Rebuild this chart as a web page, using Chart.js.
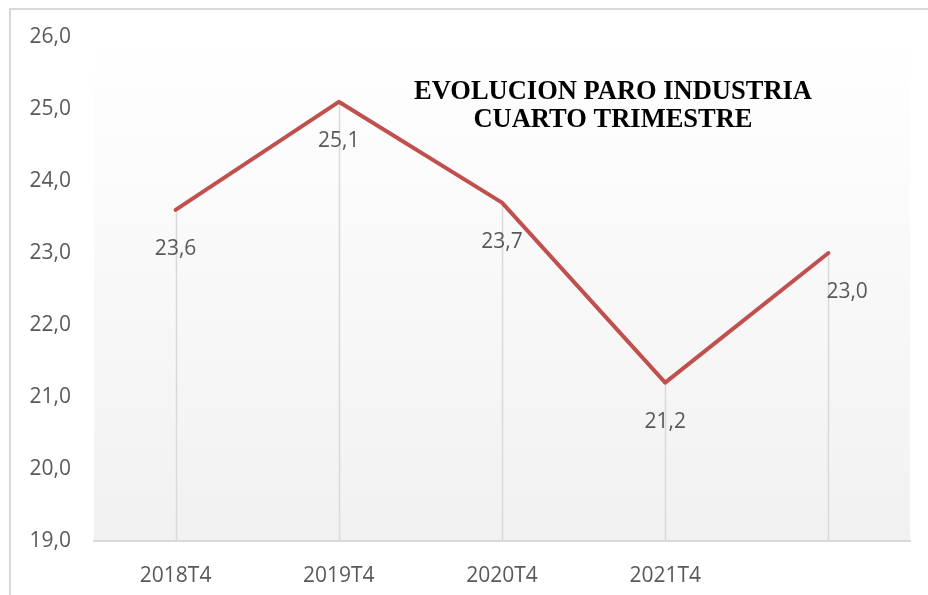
<!DOCTYPE html>
<html>
<head>
<meta charset="utf-8">
<script src="https://cdn.jsdelivr.net/npm/chart.js@4/dist/chart.umd.min.js"></script>
<style>
  html, body { margin: 0; padding: 0; background: #ffffff; overflow: hidden; }
  #frame { position: absolute; left: 9px; top: 8px; width: 960px; height: 640px; border: 2px solid #d9d9d9; box-sizing: border-box; }
  #wrap { position: absolute; left: 0; top: 0; width: 928px; height: 595px; }
</style>
</head>
<body>
<div id="frame"></div>
<div id="wrap"><canvas id="c" width="928" height="595"></canvas></div>
<script>
// ---- data ----
const categories = ['2018T4', '2019T4', '2020T4', '2021T4', ''];
const paroIndustria = [23.6, 25.1, 23.7, 21.2, 23.0];
const titleLines = ['EVOLUCION PARO INDUSTRIA', 'CUARTO TRIMESTRE'];
const yMin = 19, yMax = 26, yStep = 1;

const fmt = v => Number(v).toFixed(1).replace('.', ',');
const TEXT = '#595959';
const FONT = 'Open Sans';

const bgPlugin = {
  id: 'bg',
  beforeDraw(chart) {
    const { ctx, chartArea: a } = chart;
    const g = ctx.createLinearGradient(0, a.top, 0, a.bottom);
    g.addColorStop(0, '#ffffff');
    g.addColorStop(1, '#f1f1f1');
    ctx.save();
    ctx.fillStyle = g;
    ctx.fillRect(a.left, a.top, a.right - a.left, a.bottom - a.top);
    ctx.restore();
  }
};

const dropPlugin = {
  id: 'drops',
  beforeDatasetsDraw(chart) {
    const { ctx, chartArea: a } = chart;
    const meta = chart.getDatasetMeta(0);
    ctx.save();
    ctx.strokeStyle = '#d9d9d9';
    ctx.lineWidth = 1.5;
    meta.data.forEach(p => {
      ctx.beginPath();
      ctx.moveTo(Math.round(p.x) + 0.5, p.y);
      ctx.lineTo(Math.round(p.x) + 0.5, a.bottom);
      ctx.stroke();
    });
    ctx.restore();
  }
};

const labelPlugin = {
  id: 'vlabels',
  afterDatasetsDraw(chart) {
    const { ctx } = chart;
    const meta = chart.getDatasetMeta(0);
    const vals = chart.data.datasets[0].data;
    ctx.save();
    ctx.font = '21px "' + FONT + '"';
    ctx.fillStyle = TEXT;
    ctx.textBaseline = 'middle';
    meta.data.forEach((p, i) => {
      const last = i === meta.data.length - 1;
      ctx.textAlign = last ? 'left' : 'center';
      ctx.fillText(fmt(vals[i]), last ? p.x - 2 : p.x, p.y + 39);
    });
    ctx.restore();
  }
};

const titlePlugin = {
  id: 'ctitle',
  afterDraw(chart) {
    const { ctx } = chart;
    ctx.save();
    ctx.font = 'bold 26.5px "Liberation Serif"';
    ctx.fillStyle = '#000000';
    ctx.textAlign = 'center';
    ctx.textBaseline = 'alphabetic';
    ctx.fillText(titleLines[0], 613, 99);
    ctx.fillText(titleLines[1], 613, 127);
    ctx.restore();
  }
};

new Chart(document.getElementById('c'), {
  type: 'line',
  data: {
    labels: categories,
    datasets: [{
      data: paroIndustria,
      borderColor: '#C0504D',
      borderWidth: 4,
      pointRadius: 0,
      pointHoverRadius: 0,
      tension: 0,
      fill: false,
      borderJoinStyle: 'round',
      borderCapStyle: 'round'
    }]
  },
  options: {
    responsive: false,
    animation: false,
    events: [],
    layout: { padding: { left: 0, right: 18, top: 37, bottom: 0 } },
    plugins: { legend: { display: false }, title: { display: false }, tooltip: { enabled: false } },
    scales: {
      x: {
        offset: true,
        grid: { display: false, drawTicks: false },
        border: { display: true, color: '#d9d9d9', width: 2 },
        ticks: { color: TEXT, font: { family: FONT, size: 21 }, padding: 22, maxRotation: 0, autoSkip: false },
        afterFit(s) { s.height = 54; }
      },
      y: {
        min: yMin, max: yMax,
        grid: { display: false, drawTicks: false },
        border: { display: false },
        ticks: { stepSize: yStep, color: TEXT, font: { family: FONT, size: 21 }, padding: 23, callback: v => fmt(v) },
        afterFit(s) { s.width = 94; }
      }
    }
  },
  plugins: [bgPlugin, dropPlugin, labelPlugin, titlePlugin]
});
</script>
</body>
</html>
